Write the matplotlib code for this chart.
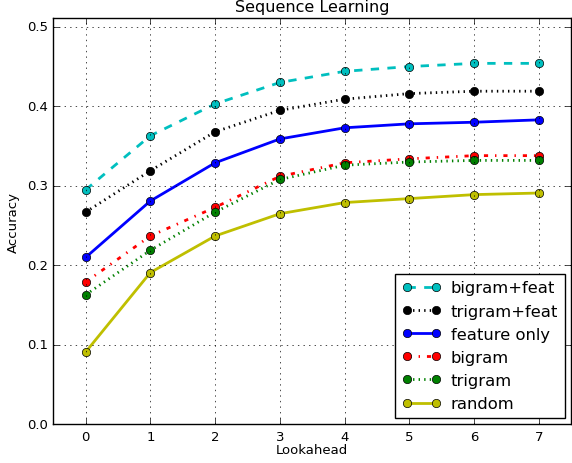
import matplotlib
matplotlib.use("Agg")
import matplotlib.pyplot as plt
import numpy as np

plt.style.use('classic')

lookahead = [0, 1, 2, 3, 4, 5, 6, 7]
bigram_feat = [0.295, 0.363, 0.403, 0.430, 0.444, 0.450, 0.454, 0.454]
trigram_feat = [0.267, 0.319, 0.368, 0.395, 0.409, 0.416, 0.419, 0.419]
feature_only = [0.210, 0.281, 0.329, 0.359, 0.373, 0.378, 0.380, 0.383]
bigram = [0.179, 0.237, 0.273, 0.312, 0.329, 0.334, 0.338, 0.338]
trigram = [0.163, 0.219, 0.267, 0.308, 0.326, 0.330, 0.332, 0.332]
random_ = [0.091, 0.191, 0.237, 0.265, 0.279, 0.284, 0.289, 0.291]

fig = plt.figure(figsize=(5.72, 4.64), dpi=100)
ax = fig.add_axes([0.093, 0.083, 0.906, 0.876])

ax.plot(lookahead, bigram_feat, 'c--o', lw=2, ms=6, label='bigram+feat')
ax.plot(lookahead, trigram_feat, 'k:o', lw=2, ms=6, label='trigram+feat')
ax.plot(lookahead, feature_only, 'b-o', lw=2, ms=6, label='feature only')
ax.plot(lookahead, bigram, 'r-.o', lw=2, ms=6, label='bigram')
ax.plot(lookahead, trigram, 'g:o', lw=2, ms=6, label='trigram')
ax.plot(lookahead, random_, 'y-o', lw=2, ms=6, label='random')

ax.set_xlim(-0.5, 7.5)
ax.set_ylim(0, 0.511)
ax.set_xticks(lookahead)
ax.set_yticks(np.arange(0, 0.51, 0.1))
ax.tick_params(labelsize=9.5)
ax.grid(True)
ax.set_xlabel('Lookahead', fontsize=9.5, labelpad=0)
ax.set_ylabel('Accuracy', fontsize=9.5)
ax.set_title('Sequence Learning', fontsize=11.5)
ax.legend(loc='lower right', fontsize=11.8, numpoints=2, handlelength=2.4,
          handletextpad=0.6, borderaxespad=0.4)

fig.savefig('out.png', dpi=100)
